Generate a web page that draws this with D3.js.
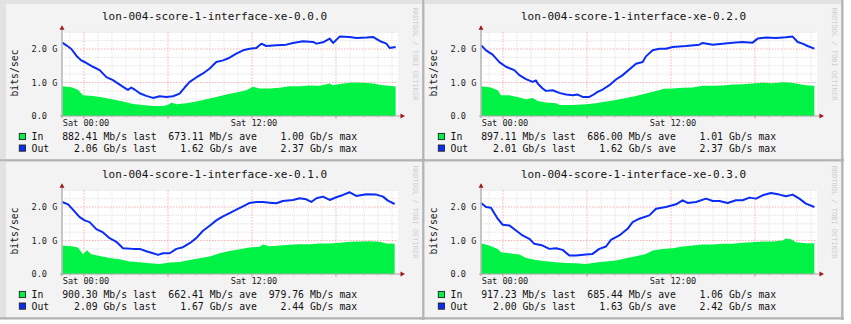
<!DOCTYPE html>
<html>
<head>
<meta charset="utf-8">
<script src="https://cdn.jsdelivr.net/npm/d3@7"></script>
<style>
  html, body { margin: 0; padding: 0; background: #ffffff; }
  svg text { font-family: "DejaVu Sans Mono", monospace; white-space: pre; }
</style>
</head>
<body>
<svg id="chart" width="851" height="324"></svg>
<script>
// Interface names, one graph each (row-major order)
const titles = [
  "lon-004-score-1-interface-xe-0.0.0",
  "lon-004-score-1-interface-xe-0.2.0",
  "lon-004-score-1-interface-xe-0.1.0",
  "lon-004-score-1-interface-xe-0.3.0"
];

// Samples: [hours relative to Sat 00:00, Gbit/s]
const in000 = [[-1.55,0.89],[-0.90,0.86],[-0.43,0.78],[-0.07,0.62],[0.64,0.60],[1.36,0.55],[2.07,0.49],[2.79,0.43],[3.50,0.36],[4.21,0.33],[4.93,0.30],[5.64,0.30],[6.00,0.33],[6.24,0.40],[6.60,0.35],[7.31,0.38],[8.02,0.43],[8.74,0.50],[9.45,0.57],[10.17,0.64],[10.88,0.70],[11.60,0.77],[12.07,0.87],[12.55,0.82],[13.26,0.82],[13.98,0.84],[14.69,0.89],[15.40,0.89],[16.12,0.91],[16.83,0.90],[17.55,0.97],[17.79,0.92],[18.50,0.97],[19.21,1.00],[19.93,0.99],[20.64,0.97],[21.36,0.92],[21.83,0.90],[22.26,0.88]];
const out000 = [[-1.55,2.19],[-1.26,2.11],[-0.90,2.00],[-0.55,1.80],[-0.20,1.66],[0.00,1.62],[0.64,1.47],[1.12,1.37],[1.60,1.16],[2.07,1.07],[2.79,0.87],[3.14,0.78],[3.38,0.85],[3.62,0.79],[3.98,0.68],[4.45,0.60],[4.93,0.54],[5.40,0.59],[5.88,0.57],[6.36,0.59],[6.83,0.67],[7.19,0.85],[7.55,1.02],[8.02,1.15],[8.50,1.27],[8.98,1.42],[9.45,1.61],[9.93,1.66],[10.40,1.74],[10.88,1.86],[11.36,1.96],[11.83,2.01],[12.31,2.03],[12.67,2.16],[13.02,2.09],[13.74,2.11],[14.45,2.13],[14.93,2.18],[15.64,2.23],[16.36,2.21],[16.60,2.16],[17.07,2.20],[17.55,2.31],[17.79,2.18],[18.26,2.37],[18.98,2.36],[19.45,2.33],[20.17,2.34],[20.64,2.36],[21.12,2.24],[21.60,2.16],[21.83,2.03],[22.26,2.06]];

const in020 = [[-1.57,0.89],[-0.86,0.85],[-0.38,0.77],[-0.14,0.62],[0.45,0.62],[1.17,0.55],[1.64,0.50],[2.12,0.54],[2.48,0.45],[3.07,0.40],[3.79,0.38],[4.02,0.33],[4.98,0.33],[5.93,0.35],[6.64,0.38],[7.36,0.43],[8.07,0.48],[8.79,0.54],[9.50,0.60],[10.21,0.67],[10.93,0.75],[11.52,0.81],[12.12,0.82],[12.83,0.84],[13.55,0.85],[14.26,0.90],[14.98,0.90],[15.69,0.91],[16.40,0.94],[17.12,0.95],[17.83,0.97],[18.55,0.99],[19.26,0.98],[19.98,1.01],[20.45,1.00],[20.93,0.97],[21.64,0.92],[22.24,0.90]];
const out020 = [[-1.57,2.11],[-1.21,1.96],[-0.74,1.83],[-0.26,1.61],[0.21,1.47],[0.81,1.37],[1.17,1.22],[1.64,1.10],[2.12,1.02],[2.36,1.06],[2.48,0.97],[2.83,0.82],[3.07,0.75],[3.55,0.77],[4.02,0.69],[4.50,0.64],[4.98,0.62],[5.33,0.64],[5.69,0.57],[6.17,0.57],[6.40,0.62],[6.76,0.72],[7.12,0.79],[7.60,0.92],[8.07,1.09],[8.55,1.22],[9.02,1.39],[9.50,1.56],[9.98,1.61],[10.21,1.78],[10.69,1.96],[11.17,2.01],[11.64,2.01],[12.12,2.06],[13.07,2.09],[14.02,2.13],[14.26,2.18],[14.98,2.13],[15.69,2.16],[16.40,2.19],[17.12,2.21],[17.83,2.19],[18.19,2.31],[18.79,2.34],[19.50,2.33],[20.21,2.35],[20.69,2.37],[21.05,2.21],[21.40,2.16],[21.76,2.09],[22.24,2.01]];

const in010 = [[-1.55,0.85],[-0.90,0.83],[-0.43,0.79],[-0.07,0.59],[0.21,0.71],[0.52,0.59],[1.12,0.54],[1.83,0.48],[2.55,0.44],[3.26,0.37],[3.98,0.35],[4.69,0.32],[5.40,0.30],[6.12,0.34],[6.83,0.36],[7.55,0.42],[8.26,0.47],[8.98,0.52],[9.69,0.62],[10.40,0.69],[11.12,0.74],[11.83,0.79],[12.55,0.81],[12.79,0.88],[13.26,0.83],[13.98,0.85],[14.69,0.87],[15.40,0.89],[16.12,0.89],[16.83,0.91],[17.55,0.91],[18.26,0.93],[18.98,0.96],[19.69,0.97],[20.40,0.98],[21.12,0.96],[21.60,0.91],[22.19,0.90]];
const out010 = [[-1.55,2.15],[-1.14,2.08],[-0.79,1.92],[-0.31,1.70],[0.05,1.60],[0.40,1.55],[0.88,1.34],[1.36,1.24],[1.83,1.07],[2.31,0.96],[2.79,0.77],[3.50,0.75],[3.98,0.75],[4.45,0.68],[4.93,0.62],[5.29,0.57],[5.64,0.62],[6.12,0.62],[6.60,0.75],[7.07,0.80],[7.55,0.92],[8.02,1.07],[8.50,1.29],[8.98,1.44],[9.45,1.60],[9.93,1.72],[10.40,1.82],[10.88,1.92],[11.36,2.02],[11.83,2.12],[12.31,2.15],[12.79,2.15],[13.26,2.13],[13.74,2.11],[14.21,2.18],[14.93,2.21],[15.40,2.26],[15.88,2.23],[16.24,2.15],[16.60,2.26],[17.07,2.31],[17.55,2.21],[18.02,2.29],[18.50,2.36],[18.98,2.44],[19.45,2.33],[20.17,2.38],[20.88,2.37],[21.36,2.31],[21.71,2.19],[22.19,2.09]];

const in030 = [[-1.57,0.92],[-0.98,0.85],[-0.38,0.75],[-0.14,0.65],[0.45,0.62],[1.17,0.58],[1.64,0.48],[2.36,0.42],[3.07,0.38],[3.79,0.35],[4.50,0.33],[5.21,0.32],[5.93,0.30],[6.64,0.34],[7.36,0.37],[8.07,0.40],[8.79,0.47],[9.50,0.53],[10.21,0.60],[10.69,0.70],[11.40,0.75],[12.12,0.77],[12.83,0.82],[13.55,0.85],[14.26,0.88],[14.98,0.88],[15.69,0.90],[16.40,0.90],[17.12,0.93],[17.83,0.95],[18.55,0.97],[19.26,0.97],[19.98,1.00],[20.21,1.06],[20.57,1.04],[20.93,0.95],[21.64,0.92],[22.24,0.92]];
const out030 = [[-1.57,2.12],[-1.21,2.00],[-0.86,1.98],[-0.38,1.65],[-0.02,1.47],[0.45,1.45],[0.93,1.30],[1.40,1.15],[1.88,1.05],[2.24,0.90],[2.83,0.85],[3.31,0.75],[3.79,0.77],[4.26,0.72],[4.74,0.55],[5.21,0.55],[5.93,0.58],[6.40,0.60],[6.88,0.75],[7.36,0.82],[7.71,1.02],[8.31,1.15],[8.90,1.35],[9.26,1.55],[9.74,1.65],[10.45,1.75],[10.93,1.95],[11.64,2.00],[12.36,2.08],[12.83,2.20],[13.19,2.12],[13.79,2.15],[14.50,2.25],[14.98,2.18],[15.45,2.18],[16.05,2.12],[16.64,2.20],[17.12,2.20],[17.60,2.28],[18.07,2.25],[18.55,2.35],[19.14,2.42],[19.74,2.37],[20.21,2.32],[20.69,2.37],[21.17,2.25],[21.64,2.10],[22.24,2.00]];

// Legend statistics: [last, average, maximum] as [value, unit]
const inStats = [
  [["882.41","Mb"],["673.11","Mb"],["1.00","Gb"]],
  [["897.11","Mb"],["686.00","Mb"],["1.01","Gb"]],
  [["900.30","Mb"],["662.41","Mb"],["979.76","Mb"]],
  [["917.23","Mb"],["685.44","Mb"],["1.06","Gb"]]
];
const outStats = [
  [["2.06","Gb"],["1.62","Gb"],["2.37","Gb"]],
  [["2.01","Gb"],["1.62","Gb"],["2.37","Gb"]],
  [["2.09","Gb"],["1.67","Gb"],["2.44","Gb"]],
  [["2.00","Gb"],["1.63","Gb"],["2.42","Gb"]]
];

const inSeries = [in000, in020, in010, in030];
const outSeries = [out000, out020, out010, out030];

// Axis ticks
const xLabelHours = [0, 12];
const xLabels = ["Sat 00:00", "Sat 12:00"];
const yLabelValues = [0, 1, 2];
const yLabels = ["0.0", "1.0 G", "2.0 G"];
const seriesNames = ["In", "Out"];

const IN_COLOR = "#00f244";
const OUT_COLOR = "#0a2cf5";

const svg = d3.select("#chart");

// Frame behind the four graphs
svg.append("rect").attr("x", 0).attr("y", 0).attr("width", 844).attr("height", 320).attr("fill", "#e2e2e2");

const offsets = [[0, 0], [419, 0], [0, 158], [419, 158]];

const x = d3.scaleLinear().domain([-1.571, 22.43]).range([62, 398]);
const y = d3.scaleLinear().domain([0, 2.5]).range([116, 32.25]);

const pad = (s, n) => s.padStart(n, " ");
const legendLine = st =>
  `${pad(st[0][0], 6)} ${st[0][1]}/s last  ${pad(st[1][0], 6)} ${st[1][1]}/s ave  ${pad(st[2][0], 6)} ${st[2][1]}/s max`;

titles.forEach((title, i) => {
  const g = svg.append("g").attr("transform", `translate(${offsets[i][0]},${offsets[i][1]})`);

  // panel background and shading
  g.append("rect").attr("x", 6).attr("y", 4).attr("width", 416).attr("height", 155).attr("fill", "#f3f3f3");
  g.append("line").attr("x1", 423.2).attr("x2", 423.2).attr("y1", 0).attr("y2", 162)
    .attr("stroke", "#b4b4b4").attr("stroke-width", 2);
  g.append("line").attr("x1", 0).attr("x2", 425).attr("y1", 160.2).attr("y2", 160.2)
    .attr("stroke", "#b4b4b4").attr("stroke-width", 2);

  const [x0, x1] = x.range();
  const [yb, yt] = y.range();

  // canvas
  g.append("rect").attr("x", x0).attr("y", yt).attr("width", x1 - x0).attr("height", yb - yt).attr("fill", "#ffffff");

  // grid: minor hourly, major every six hours
  const hours = d3.range(-1, 23);
  g.append("g").selectAll("line").data(hours.filter(h => h % 6 !== 0)).join("line")
    .attr("x1", d => x(d)).attr("x2", d => x(d)).attr("y1", yt).attr("y2", yb)
    .attr("stroke", "#d9d9d9").attr("stroke-width", 0.8).attr("stroke-dasharray", "1,1");
  const levels = d3.range(0.25, 2.51, 0.25);
  g.append("g").selectAll("line").data(levels.filter(v => Math.abs(v - Math.round(v)) > 1e-6)).join("line")
    .attr("x1", x0).attr("x2", x1).attr("y1", d => y(d)).attr("y2", d => y(d))
    .attr("stroke", "#d9d9d9").attr("stroke-width", 0.8).attr("stroke-dasharray", "1,1");
  g.append("g").selectAll("line").data(hours.filter(h => h % 6 === 0)).join("line")
    .attr("x1", d => x(d)).attr("x2", d => x(d)).attr("y1", yt).attr("y2", yb)
    .attr("stroke", "#ff9c9c").attr("stroke-width", 0.8).attr("stroke-dasharray", "1.5,1.5");
  g.append("g").selectAll("line").data([1, 2]).join("line")
    .attr("x1", x0).attr("x2", x1).attr("y1", d => y(d)).attr("y2", d => y(d))
    .attr("stroke", "#ff9c9c").attr("stroke-width", 0.8).attr("stroke-dasharray", "1.5,1.5");

  // inbound traffic area
  const area = d3.area().x(d => x(d[0])).y0(y(0)).y1(d => y(d[1]));
  g.append("path").datum(inSeries[i]).attr("d", area).attr("fill", IN_COLOR);

  // outbound traffic line
  const line = d3.line().x(d => x(d[0])).y(d => y(d[1]));
  g.append("path").datum(outSeries[i]).attr("d", line).attr("fill", "none")
    .attr("stroke", OUT_COLOR).attr("stroke-width", 2).attr("stroke-linejoin", "round");

  // small ticks under the time axis
  g.append("g").selectAll("line").data(hours).join("line")
    .attr("x1", d => x(d)).attr("x2", d => x(d)).attr("y1", yb).attr("y2", d => yb + (d % 6 === 0 ? 2.5 : 1.5))
    .attr("stroke", d => d % 6 === 0 ? "#e06060" : "#b0b0b0").attr("stroke-width", 0.8);

  // axes with arrow heads
  g.append("line").attr("x1", x0).attr("x2", x0).attr("y1", yb + 2).attr("y2", yt - 3)
    .attr("stroke", "#b8b8b8").attr("stroke-width", 1.6);
  g.append("line").attr("x1", x0 - 2).attr("x2", x1 + 4).attr("y1", yb).attr("y2", yb)
    .attr("stroke", "#a8a8a8").attr("stroke-width", 1.2);
  g.append("path").attr("d", `M${x0},${yt - 7} L${x0 - 2.5},${yt - 2.5} L${x0 + 2.5},${yt - 2.5} Z`).attr("fill", "#a01818");
  g.append("path").attr("d", `M${x1 + 7},${yb} L${x1 + 2.5},${yb - 2.5} L${x1 + 2.5},${yb + 2.5} Z`).attr("fill", "#a01818");

  // time labels
  const xAxis = d3.axisBottom(x).tickValues(xLabelHours).tickSize(0).tickPadding(0)
    .tickFormat((d, k) => xLabels[k]);
  const xa = g.append("g").attr("transform", `translate(0,${yb + 3.5})`).call(xAxis);
  xa.select(".domain").remove();
  xa.selectAll("text").attr("font-family", "DejaVu Sans Mono").attr("font-size", 8.6).attr("fill", "#222")
    .attr("dx", 1.5);

  // value labels
  g.append("g").selectAll("text").data(yLabelValues).join("text")
    .attr("x", 31.5).attr("y", d => y(d)).attr("dy", "0.35em")
    .attr("font-size", 8.6).attr("fill", "#222").text((d, k) => yLabels[k]);

  // unit label
  g.append("text").attr("transform", `translate(15,73) rotate(-90)`)
    .attr("text-anchor", "middle").attr("dy", "0.35em").attr("font-size", 9.8).attr("fill", "#222")
    .text("bits/sec");

  // watermark
  g.append("text").attr("transform", `translate(415,54) rotate(90)`)
    .attr("text-anchor", "middle").attr("dy", "0.35em").attr("font-size", 7).attr("fill", "#cfcfcf")
    .text("RRDTOOL / TOBI OETIKER");

  // title
  g.append("text").attr("x", 214.5).attr("y", 20).attr("text-anchor", "middle")
    .attr("font-size", 11).attr("fill", "#111").text(title);

  // legend
  const stats = [inStats[i], outStats[i]];
  const colors = [IN_COLOR, OUT_COLOR];
  seriesNames.forEach((name, k) => {
    const by = 140.2 + k * 11.6;
    g.append("rect").attr("x", 19.3).attr("y", by - 6.8).attr("width", 6.2).attr("height", 6.2)
      .attr("fill", colors[k]).attr("stroke", "#222").attr("stroke-width", 0.9);
    g.append("text").attr("x", 31.5).attr("y", by).attr("font-size", 9.8).attr("fill", "#111").text(name);
    g.append("text").attr("x", 62.2).attr("y", by).attr("font-size", 9.8).attr("fill", "#111")
      .text(legendLine(stats[k]));
  });
});
</script>
</body>
</html>
